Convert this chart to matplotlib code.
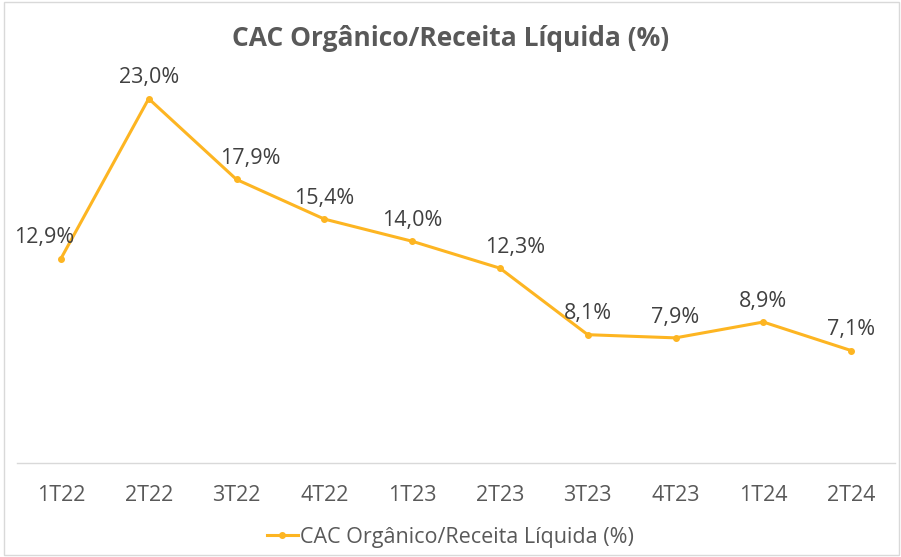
import matplotlib.pyplot as plt
from matplotlib.patches import Rectangle

plt.rcParams['font.family'] = ['Open Sans', 'DejaVu Sans']

# dados do gráfico
trimestres = ["1T22", "2T22", "3T22", "4T22", "1T23", "2T23", "3T23", "4T23", "1T24", "2T24"]
cac_receita = [12.9, 23.0, 17.9, 15.4, 14.0, 12.3, 8.1, 7.9, 8.9, 7.1]
serie_nome = "CAC Orgânico/Receita Líquida (%)"

cor_linha = "#FDB522"
cor_texto = "#404040"
cor_eixo = "#595959"

fig = plt.figure(figsize=(9.01, 5.57), dpi=100)
ax = fig.add_axes([17 / 901, (557 - 463) / 557, 878 / 901, 396 / 557])

x = list(range(len(trimestres)))
ax.plot(x, cac_receita, color=cor_linha, linewidth=2.2, marker="o", markersize=4,
        label=serie_nome)

# rótulos de dados (alguns deslocados como no original)
desloc = {0: -12, 2: 10, 5: 11}
for i, v in enumerate(cac_receita):
    rotulo = f"{v:.1f}%".replace(".", ",")
    ax.annotate(rotulo, (i, v), xytext=(desloc.get(i, 0), 15), textcoords="offset points",
                ha="center", va="center", fontsize=15.5, color=cor_texto)

ax.set_xlim(-0.5, len(trimestres) - 0.5)
ax.set_ylim(0, 25)
ax.set_xticks(x)
ax.set_xticklabels(trimestres, fontsize=15.5, color=cor_eixo)
ax.tick_params(axis="x", length=0, pad=16)
ax.set_yticks([])
for lado in ["top", "right", "left"]:
    ax.spines[lado].set_visible(False)
ax.spines["bottom"].set_color("#D9D9D9")
ax.spines["bottom"].set_linewidth(1)

fig.suptitle(serie_nome, x=0.5, y=0.955, fontsize=19, fontweight="bold", color=cor_eixo)

leg = fig.legend(loc="center", bbox_to_anchor=(0.5, 0.035), frameon=False, fontsize=15.5,
                 handlelength=1.4, handletextpad=0.1)
for t in leg.get_texts():
    t.set_color(cor_eixo)

# moldura clara do gráfico
fig.patches.append(Rectangle((0.004, 0.004), 0.994, 0.992, transform=fig.transFigure,
                             fill=False, edgecolor="#D9D9D9", linewidth=1))

fig.savefig("out.png", dpi=100)
